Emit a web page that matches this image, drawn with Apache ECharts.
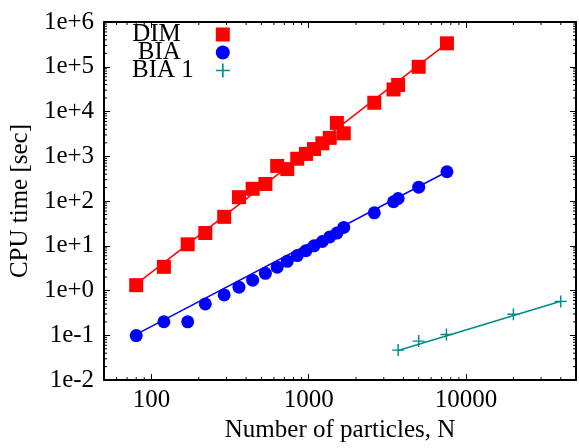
<!DOCTYPE html>
<html>
<head>
<meta charset="utf-8">
<script src="https://cdn.jsdelivr.net/npm/echarts@6/dist/echarts.min.js"></script>
<style>
html, body { margin: 0; padding: 0; background: #fff; }
#chart { width: 579px; height: 448px; }
</style>
</head>
<body>
<div id="chart"></div>
<script>
// number of particles (shared by DIM and BIA runs)
var nVals = [80, 120, 170, 220, 290, 360, 440, 530, 630, 730, 845, 960, 1080, 1220, 1360, 1510, 1670, 2610, 3460, 3700, 5000, 7560];
var tDim = [1.32, 3.39, 10.8, 19.3, 44.4, 122, 188, 241, 609, 517, 881, 1130, 1450, 1950, 2580, 5560, 3260, 15700, 31100, 39300, 99800, 334000];
var tBia = [0.099, 0.201, 0.2, 0.503, 0.80, 1.19, 1.71, 2.43, 3.34, 4.50, 6.06, 7.78, 9.97, 12.5, 15.8, 19.3, 25.7, 54.5, 96.6, 114, 204, 452];
var nBia1 = [3700, 5000, 7500, 20000, 40000];
var tBia1 = [0.0468, 0.0743, 0.104, 0.295, 0.573];

// fitted lines, end points
var fitDim = [[80, 1.4], [7560, 334000]];
var fitBia = [[80, 0.105], [7560, 452]];
var fitBia1 = [[3700, 0.046], [40000, 0.58]];

// minor tick positions (log axes, 2..9 per decade)
var minorMult = [2, 3, 4, 5, 6, 7, 8, 9];
var xMinor = [60, 70, 80, 90];
[100, 1000].forEach(function (d) { minorMult.forEach(function (m) { xMinor.push(m * d); }); });
[20000, 30000, 40000].forEach(function (v) { xMinor.push(v); });
var yMinor = [];
[0.01, 0.1, 1, 10, 100, 1000, 10000, 100000].forEach(function (d) {
  minorMult.forEach(function (m) { yMinor.push(m * d); });
});

var font = 'Liberation Serif';
var fs = 25;
var plus = 'path://M0,4.4H10V5.6H0Z M4.4,0H5.6V10H4.4Z';

function zip(xs, ys) {
  return xs.map(function (x, i) { return [x, ys[i]]; });
}

function xLabel(v) {
  var e = Math.log10(v);
  return Math.abs(e - Math.round(e)) < 1e-6 ? String(Math.round(v)) : '';
}
function yLabel(v) {
  var e = Math.round(Math.log10(v));
  return '1e' + (e >= 0 ? '+' : '') + e;
}

function minorTicks(vals, dir) {
  return {
    type: 'custom',
    silent: true,
    z: 5,
    data: vals.map(function (v) { return dir === 'x' ? [v, 1] : [100, v]; }),
    renderItem: function (params, api) {
      var cs = params.coordSys;
      var p = api.coord([api.value(0), api.value(1)]);
      var st = { stroke: '#000', lineWidth: 1 };
      var len = 3;
      if (dir === 'x') {
        var yb = cs.y + cs.height, yt = cs.y;
        return { type: 'group', children: [
          { type: 'line', shape: { x1: p[0], y1: yb, x2: p[0], y2: yb - len }, style: st },
          { type: 'line', shape: { x1: p[0], y1: yt, x2: p[0], y2: yt + len }, style: st }
        ] };
      }
      var xl = cs.x, xr = cs.x + cs.width;
      return { type: 'group', children: [
        { type: 'line', shape: { x1: xl, y1: p[1], x2: xl + len, y2: p[1] }, style: st },
        { type: 'line', shape: { x1: xr, y1: p[1], x2: xr - len, y2: p[1] }, style: st }
      ] };
    }
  };
}

var axisCommon = {
  type: 'log',
  logBase: 10,
  axisLine: { show: true, lineStyle: { color: '#000', width: 2 } },
  axisTick: { show: true, inside: true, length: 6, lineStyle: { color: '#000', width: 1 } },
  splitLine: { show: false },
  minorTick: { show: false }
};

function xAxisOpt(pos, labels) {
  return Object.assign({}, axisCommon, {
    position: pos,
    min: 50, max: 50000, splitNumber: 3,
    axisLabel: { show: labels, formatter: xLabel, margin: 8, color: '#000', fontFamily: font, fontSize: fs }
  });
}
function yAxisOpt(pos, labels) {
  return Object.assign({}, axisCommon, {
    position: pos,
    min: 0.01, max: 1000000, splitNumber: 8,
    axisLabel: { show: labels, formatter: yLabel, margin: 10, color: '#000', fontFamily: font, fontSize: fs }
  });
}

var chart = echarts.init(document.getElementById('chart'), null, { renderer: 'canvas' });

var xBottom = xAxisOpt('bottom', true);
xBottom.name = 'Number of particles, N';
xBottom.nameLocation = 'middle';
xBottom.nameGap = 32;
xBottom.nameTextStyle = { color: '#000', fontFamily: font, fontSize: fs };

var yLeft = yAxisOpt('left', true);
yLeft.name = 'CPU time [sec]';
yLeft.nameLocation = 'middle';
yLeft.nameGap = 71;
yLeft.nameTextStyle = { color: '#000', fontFamily: font, fontSize: fs };

chart.setOption({
  backgroundColor: '#fff',
  animation: false,
  grid: { left: 101, top: 22, right: 1, bottom: 56, containLabel: false },
  legend: {
    data: ['DIM', 'BIA', { name: 'BIA 1', textStyle: { padding: [0, 17, 0, 0] } }],
    orient: 'vertical',
    align: 'right',
    left: 132,
    top: 22,
    padding: 0,
    itemGap: -7,
    itemWidth: 14,
    itemHeight: 14,
    textStyle: { color: '#000', fontFamily: font, fontSize: fs, padding: [0, 30, 0, 0] }
  },
  xAxis: [xBottom, xAxisOpt('top', false)],
  yAxis: [yLeft, yAxisOpt('right', false)],
  series: [
    minorTicks(xMinor, 'x'),
    minorTicks(yMinor, 'y'),
    { name: 'DIM fit', type: 'line', data: fitDim, symbol: 'none', z: 2,
      lineStyle: { color: '#ff0000', width: 1.5 } },
    { name: 'BIA fit', type: 'line', data: fitBia, symbol: 'none', z: 2,
      lineStyle: { color: '#0000ff', width: 1.5 } },
    { name: 'BIA 1 fit', type: 'line', data: fitBia1, symbol: 'none', z: 2,
      lineStyle: { color: '#008b8b', width: 1.5 } },
    { name: 'DIM', type: 'scatter', data: zip(nVals, tDim), symbol: 'rect', symbolSize: 14, z: 3,
      itemStyle: { color: '#ff0000', opacity: 1 } },
    { name: 'BIA', type: 'scatter', data: zip(nVals, tBia), symbol: 'circle', symbolSize: 13, z: 3,
      itemStyle: { color: '#0000ff', opacity: 1 } },
    { name: 'BIA 1', type: 'scatter', data: zip(nBia1, tBia1), symbol: plus, symbolSize: 12, z: 3,
      itemStyle: { color: '#008b8b', opacity: 1 } }
  ]
});
</script>
</body>
</html>
